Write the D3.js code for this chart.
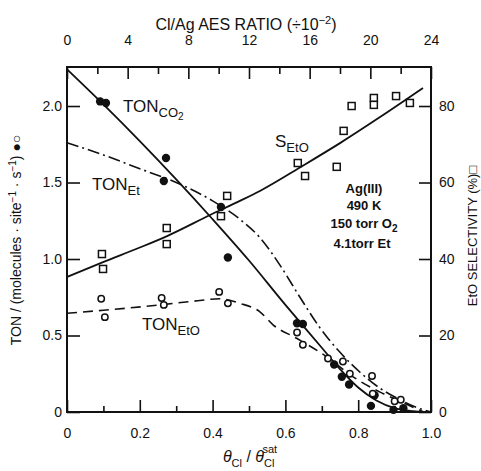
<!DOCTYPE html>
<html>
<head>
<meta charset="utf-8">
<script src="https://cdn.jsdelivr.net/npm/d3@7"></script>
<style>
  html, body { margin: 0; padding: 0; background: #fff; }
  svg { display: block; }
  text { font-family: "Liberation Sans", Arial, sans-serif; fill: #111; }
</style>
</head>
<body>
<div id="chart"></div>
<script>
// ── Data ────────────────────────────────────────────
const xTicks      = [0, 0.2, 0.4, 0.6, 0.8, 1.0];
const xTickLabels = ["0", "0.2", "0.4", "0.6", "0.8", "1.0"];
const topTicks    = [0, 4, 8, 12, 16, 20, 24];
const leftTicks   = [0, 0.5, 1.0, 1.5, 2.0];
const leftLabels  = ["0", "0.5", "1.0", "1.5", "2.0"];
const rightTicks  = [0, 20, 40, 60, 80];

// TON CO2 (filled circles) — theta, TON
const co2Points = [
  [0.091, 2.03], [0.107, 2.02], [0.272, 1.66], [0.266, 1.51], [0.423, 1.34],
  [0.442, 1.01], [0.632, 0.58], [0.648, 0.575], [0.734, 0.31], [0.755, 0.23],
  [0.775, 0.18], [0.845, 0.11], [0.835, 0.04], [0.897, 0.014], [0.924, 0.025]
];
// TON EtO (open circles)
const etoPoints = [
  [0.094, 0.74], [0.104, 0.62], [0.26, 0.745], [0.266, 0.70], [0.418, 0.785],
  [0.442, 0.71], [0.632, 0.52], [0.648, 0.44], [0.717, 0.35], [0.758, 0.33],
  [0.777, 0.25], [0.838, 0.235], [0.84, 0.12], [0.90, 0.07], [0.917, 0.08]
];
// EtO selectivity (squares, %)
const selPoints = [
  [0.096, 41.3], [0.099, 37.4], [0.274, 48.1], [0.274, 43.9], [0.423, 51.2],
  [0.44, 56.5], [0.634, 65.1], [0.654, 61.7], [0.741, 64.1], [0.76, 73.5],
  [0.782, 80.0], [0.843, 82.1], [0.843, 80.3], [0.904, 82.6], [0.942, 80.8]
];

// fitted curves
const co2Curve = [
  [0, 2.24], [0.1, 2.01], [0.2, 1.77], [0.3, 1.52], [0.4, 1.26], [0.5, 0.99],
  [0.6, 0.70], [0.65, 0.56], [0.7, 0.42], [0.75, 0.28], [0.8, 0.16],
  [0.85, 0.075], [0.9, 0.025], [0.95, 0.005], [0.97, 0]
];
const etCurve = [
  [0, 1.76], [0.1, 1.68], [0.2, 1.59], [0.3, 1.50], [0.4, 1.38], [0.475, 1.26],
  [0.53, 1.14], [0.585, 0.96], [0.64, 0.75], [0.695, 0.55], [0.75, 0.39],
  [0.805, 0.26], [0.86, 0.155], [0.915, 0.08], [0.96, 0.03], [1.0, 0]
];
const etoCurve = [
  [0, 0.645], [0.1, 0.665], [0.255, 0.70], [0.35, 0.725], [0.42, 0.74],
  [0.475, 0.71], [0.53, 0.655], [0.566, 0.57], [0.632, 0.48], [0.714, 0.36],
  [0.786, 0.23], [0.86, 0.13], [0.915, 0.07], [0.98, 0]
];
const selCurve = [
  [0, 35.3], [0.099, 39.2], [0.2, 43.0], [0.275, 46.0], [0.393, 51.5],
  [0.475, 55.2], [0.53, 57.8], [0.648, 64.4], [0.75, 70.3], [0.86, 77.1],
  [0.978, 84.7]
];

// ── Layout ──────────────────────────────────────────
const W = 481, H = 471;
const margin = { top: 67, right: 50, bottom: 59, left: 67 };
const width  = W - margin.left - margin.right;   // 364
const height = H - margin.top - margin.bottom;   // 345

const svg = d3.select("#chart").append("svg")
  .attr("width", W).attr("height", H);
const g = svg.append("g")
  .attr("transform", `translate(${margin.left},${margin.top})`);

const x    = d3.scaleLinear().domain([0, 1]).range([0, width]);
const xTop = d3.scaleLinear().domain([0, 24]).range([0, width]);
const y    = d3.scaleLinear().domain([0, 2.255]).range([height, 0]);
const yR   = d3.scaleLinear().domain([0, 90.2]).range([height, 0]);

// ── Axes (ticks point inward) ───────────────────────
function styleAxis(sel) {
  sel.select(".domain").remove();
  sel.selectAll(".tick line").attr("stroke", "#111").attr("stroke-width", 1.6);
  sel.selectAll(".tick text").attr("font-size", 14).attr("fill", "#111");
}

// bottom minor + major
g.append("g").attr("transform", `translate(0,${height})`)
  .call(d3.axisBottom(x).tickValues(d3.range(0.1, 1, 0.2)).tickSize(-6).tickFormat(""))
  .call(styleAxis);
g.append("g").attr("transform", `translate(0,${height})`)
  .call(d3.axisBottom(x).tickValues(xTicks).tickSize(-12).tickPadding(16)
    .tickFormat((d, i) => xTickLabels[i]))
  .call(styleAxis);

// top minor + major
g.append("g")
  .call(d3.axisTop(xTop).tickValues(d3.range(2, 24, 4)).tickSize(-7).tickFormat(""))
  .call(styleAxis);
g.append("g")
  .call(d3.axisTop(xTop).tickValues(topTicks).tickSize(-12).tickPadding(22)
    .tickFormat(d => d))
  .call(styleAxis);

// left
g.append("g")
  .call(d3.axisLeft(y).tickValues(leftTicks).tickSize(-13).tickPadding(5)
    .tickFormat((d, i) => leftLabels[i]))
  .call(styleAxis);

// right
g.append("g").attr("transform", `translate(${width},0)`)
  .call(d3.axisRight(yR).tickValues(rightTicks).tickSize(-12).tickPadding(8))
  .call(styleAxis);

// frame
g.append("rect")
  .attr("width", width).attr("height", height)
  .attr("fill", "none").attr("stroke", "#111").attr("stroke-width", 2);

// ── Curves ──────────────────────────────────────────
const lineL = d3.line().x(d => x(d[0])).y(d => y(d[1])).curve(d3.curveMonotoneX);
const lineR = d3.line().x(d => x(d[0])).y(d => yR(d[1])).curve(d3.curveMonotoneX);

g.append("path").datum(co2Curve).attr("d", lineL)
  .attr("fill", "none").attr("stroke", "#111").attr("stroke-width", 1.8);
g.append("path").datum(etCurve).attr("d", lineL)
  .attr("fill", "none").attr("stroke", "#111").attr("stroke-width", 1.6)
  .attr("stroke-dasharray", "12,4,2,4");
g.append("path").datum(etoCurve).attr("d", lineL)
  .attr("fill", "none").attr("stroke", "#111").attr("stroke-width", 1.6)
  .attr("stroke-dasharray", "10,6");
g.append("path").datum(selCurve).attr("d", lineR)
  .attr("fill", "none").attr("stroke", "#111").attr("stroke-width", 1.8);

// ── Markers ─────────────────────────────────────────
g.selectAll(".co2").data(co2Points).enter().append("circle")
  .attr("cx", d => x(d[0])).attr("cy", d => y(d[1])).attr("r", 4.2)
  .attr("fill", "#111");
g.selectAll(".eto").data(etoPoints).enter().append("circle")
  .attr("cx", d => x(d[0])).attr("cy", d => y(d[1])).attr("r", 3.2)
  .attr("fill", "#fff").attr("stroke", "#111").attr("stroke-width", 1.5);
g.selectAll(".sel").data(selPoints).enter().append("rect")
  .attr("x", d => x(d[0]) - 3.5).attr("y", d => yR(d[1]) - 3.5)
  .attr("width", 7).attr("height", 7)
  .attr("fill", "#fff").attr("stroke", "#111").attr("stroke-width", 1.5);

// ── Curve labels ────────────────────────────────────
function subLabel(px, py, main, sub, sub2) {
  const t = svg.append("text").attr("x", px).attr("y", py).attr("font-size", 17);
  t.append("tspan").text(main);
  t.append("tspan").attr("dy", 5).attr("font-size", 13).text(sub);
  if (sub2) t.append("tspan").attr("dy", 3).attr("font-size", 10).text(sub2);
  return t;
}
subLabel(123, 112, "TON", "CO", "2");
subLabel(92, 190, "TON", "Et");
subLabel(142, 330, "TON", "EtO");
subLabel(275, 147, "S", "EtO");

// condition block
const cond = svg.append("g");
cond.append("text").attr("x", 364).attr("y", 193).attr("text-anchor", "middle")
  .attr("font-weight", "bold").attr("font-size", 13).text("Ag(III)");
cond.append("text").attr("x", 364).attr("y", 210).attr("text-anchor", "middle")
  .attr("font-weight", "bold").attr("font-size", 13).text("490 K");
const o2 = cond.append("text").attr("x", 364).attr("y", 228).attr("text-anchor", "middle")
  .attr("font-weight", "bold").attr("font-size", 13);
o2.append("tspan").text("150 torr O");
o2.append("tspan").attr("dy", 4).attr("font-size", 10).text("2");
cond.append("text").attr("x", 362).attr("y", 248).attr("text-anchor", "middle")
  .attr("font-weight", "bold").attr("font-size", 13).text("4.1torr Et");

// ── Axis titles ─────────────────────────────────────
const tt = svg.append("text").attr("x", 246).attr("y", 30)
  .attr("text-anchor", "middle").attr("font-size", 16);
tt.append("tspan").text("Cl/Ag AES RATIO (\u00F710");
tt.append("tspan").attr("dy", -6).attr("font-size", 11).text("\u22122");
tt.append("tspan").attr("dy", 6).text(")");

const bt = svg.append("text").attr("x", 250).attr("y", 462)
  .attr("text-anchor", "middle").attr("font-size", 16);
bt.append("tspan").attr("font-style", "italic").text("\u03B8");
bt.append("tspan").attr("dy", 5).attr("font-size", 11).text("Cl");
bt.append("tspan").attr("dy", -5).text(" / ");
bt.append("tspan").attr("font-style", "italic").text("\u03B8");
bt.append("tspan").attr("dy", 5).attr("font-size", 11).text("Cl");
bt.append("tspan").attr("dx", -12).attr("dy", -14).attr("font-size", 11).text("sat");

const lt = svg.append("text")
  .attr("transform", "translate(21,240) rotate(-90)")
  .attr("text-anchor", "middle").attr("font-size", 14);
lt.append("tspan").text("TON / (molecules \u00B7 site");
lt.append("tspan").attr("dy", -5).attr("font-size", 10).text("\u22121");
lt.append("tspan").attr("dy", 5).text(" \u00B7 s");
lt.append("tspan").attr("dy", -5).attr("font-size", 10).text("\u22121");
lt.append("tspan").attr("dy", 5).text(") \u25CF\u25CB");

svg.append("text")
  .attr("transform", "translate(477,236) rotate(-90)")
  .attr("text-anchor", "middle").attr("font-size", 13)
  .text("EtO SELECTIVITY (%)\u25A1");
</script>
</body>
</html>
